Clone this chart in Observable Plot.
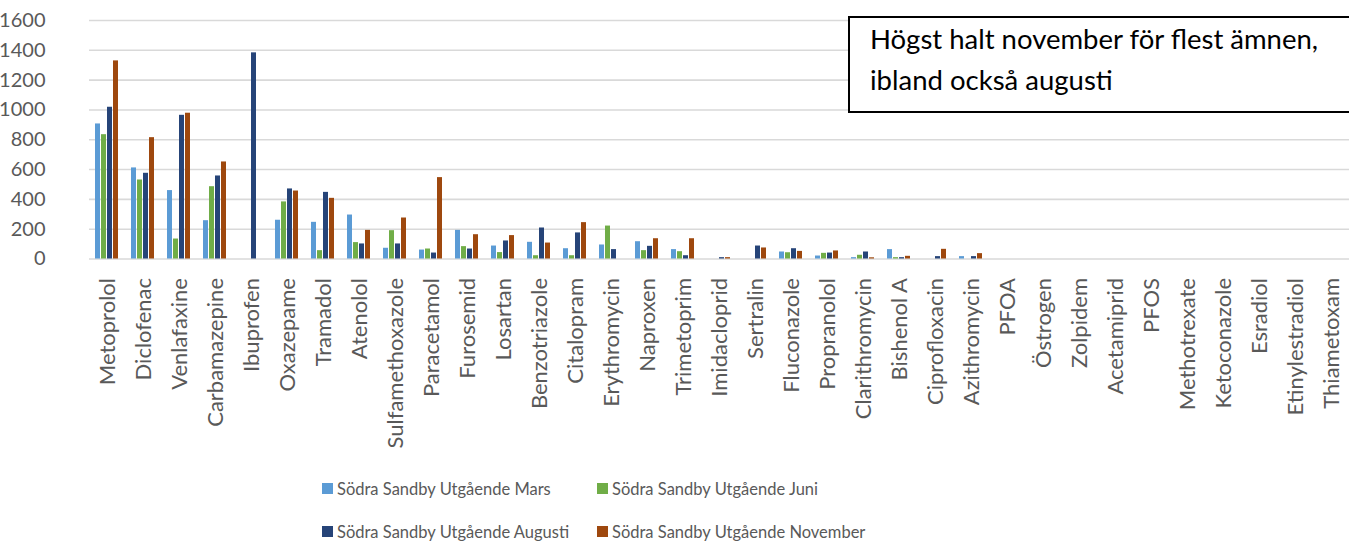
<!DOCTYPE html>
<html>
<head>
<meta charset="utf-8">
<script src="https://cdn.jsdelivr.net/npm/d3@7"></script>
<script src="https://cdn.jsdelivr.net/npm/@observablehq/plot@0.6"></script>
<style>
  html, body { margin: 0; padding: 0; background: #fff; overflow: hidden; }
  body { width: 1349px; height: 544px; position: relative; font-family: Lato, "Open Sans", sans-serif; }
  #chart { position: absolute; left: 0; top: 0; }
  #note { position: absolute; left: 848px; top: 16px; width: 520px; height: 97px; border: 2px solid #000; background: #fff; box-sizing: border-box; padding: 1px 0 0 20px; font-size: 27.5px; line-height: 40.5px; color: #000; }
  .legrow { position: absolute; left: 0; width: 1349px; height: 43px; }
  .legitem { position: absolute; top: 0; height: 43px; display: flex; align-items: center; font-size: 16.5px; color: #595959; white-space: nowrap; }
  .sw { width: 11px; height: 11px; margin-right: 4px; flex: none; }
</style>
</head>
<body>
<div id="chart"></div>
<div id="note">Högst halt november för flest ämnen,<br>ibland också augusti</div>
<div id="legend"></div>
<script>
const drugs = ["Metoprolol","Diclofenac","Venlafaxine","Carbamazepine","Ibuprofen","Oxazepame","Tramadol","Atenolol","Sulfamethoxazole","Paracetamol","Furosemid","Losartan","Benzotriazole","Citalopram","Erythromycin","Naproxen","Trimetoprim","Imidacloprid","Sertralin","Fluconazole","Propranolol","Clarithromycin","Bishenol A","Ciprofloxacin","Azithromycin","PFOA","Östrogen","Zolpidem","Acetamiprid","PFOS","Methotrexate","Ketoconazole","Esradiol","Etinylestradiol","Thiametoxam"];

const seriesNames = ["Södra Sandby Utgående Mars","Södra Sandby Utgående Juni","Södra Sandby Utgående Augusti","Södra Sandby Utgående November"];
const seriesColors = ["#5B9BD5","#70AD47","#264478","#9E480E"];

const mars     = [906, 611, 459, 257, 0, 260, 246, 295, 72, 60, 192, 87, 112, 69, 94, 116, 63, 0, 0, 47, 20, 9, 63, 0, 16, 0,0,0,0,0,0,0,0,0,0];
const juni     = [834, 530, 134, 485, 0, 383, 56, 110, 190, 67, 83, 43, 22, 22, 221, 56, 49, 0, 0, 42, 38, 25, 9, 0, 0, 0,0,0,0,0,0,0,0,0,0];
const augusti  = [1018, 575, 964, 557, 1383, 470, 447, 101, 101, 40, 67, 121, 208, 175, 63, 85, 22, 9, 87, 69, 40, 47, 9, 16, 16, 0,0,0,0,0,0,0,0,0,0];
const november = [1329, 814, 978, 651, 0, 456, 407, 192, 275, 546, 163, 157, 107, 244, 0, 136, 136, 9, 74, 51, 54, 8, 18, 65, 36, 0,0,0,0,0,0,0,0,0,0];

const yTicks = [0, 200, 400, 600, 800, 1000, 1200, 1400, 1600];

const seriesValues = [mars, juni, augusti, november];
const data = [];
drugs.forEach((d, i) => {
  seriesNames.forEach((s, j) => {
    data.push({drug: d, series: s, value: seriesValues[j][i]});
  });
});

const chart = Plot.plot({
  width: 1349,
  height: 450,
  marginTop: 20,
  marginBottom: 191.5,
  marginLeft: 80,
  marginRight: -8.5,
  style: {fontFamily: "Lato, 'Open Sans', sans-serif", color: "#595959", background: "transparent"},
  fx: {domain: drugs, padding: 0, label: null},
  x: {domain: seriesNames, axis: null, paddingInner: 0.154, paddingOuter: 0.885},
  y: {domain: [0, 1600], ticks: yTicks, label: null},
  color: {domain: seriesNames, range: seriesColors},
  marks: [
    Plot.ruleY(yTicks, {stroke: "#d9d9d9", strokeWidth: 1.6}),
    Plot.barY(data, {fx: "drug", x: "series", y: "value", fill: "series"}),
    Plot.axisY({ticks: yTicks, tickSize: 0, tickPadding: 33, dx: -11, fontSize: 20, fill: "#595959", label: null, tickFormat: d => String(d)}),
    Plot.axisFx({anchor: "bottom", tickRotate: -90, tickSize: 0, tickPadding: 19, fontSize: 22, fill: "#595959", label: null})
  ]
});
document.getElementById("chart").appendChild(chart);

const legend = document.getElementById("legend");
const rows = [[0, 1], [2, 3]];
const rowTops = [467, 510];
const colLefts = [322, 597];
rows.forEach((r, ri) => {
  const row = document.createElement("div");
  row.className = "legrow";
  row.style.top = rowTops[ri] + "px";
  r.forEach((si, ci) => {
    const item = document.createElement("div");
    item.className = "legitem";
    item.style.left = colLefts[ci] + "px";
    const sw = document.createElement("span");
    sw.className = "sw";
    sw.style.background = seriesColors[si];
    const t = document.createElement("span");
    t.textContent = seriesNames[si];
    item.appendChild(sw);
    item.appendChild(t);
    row.appendChild(item);
  });
  legend.appendChild(row);
});
</script>
</body>
</html>
